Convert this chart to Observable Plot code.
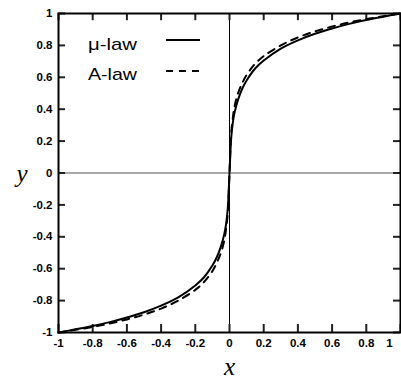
<!DOCTYPE html>
<html>
<head>
<meta charset="utf-8">
<script src="https://cdn.jsdelivr.net/npm/d3@7"></script>
<script src="https://cdn.jsdelivr.net/npm/@observablehq/plot@0.6"></script>
<style>
  body { margin: 0; background: white; }
  #chart { width: 401px; height: 381px; }
</style>
</head>
<body>
<div id="chart"></div>
<script>
// Values
const xs      = [-1, -0.9, -0.8, -0.7, -0.6, -0.5, -0.4, -0.3, -0.2, -0.15, -0.1, -0.075, -0.05, -0.03, -0.02, -0.01, 0,
                  0.01, 0.02, 0.03, 0.05, 0.075, 0.1, 0.15, 0.2, 0.3, 0.4, 0.5, 0.6, 0.7, 0.8, 0.9, 1];
const muLaw   = [-1, -0.98, -0.959, -0.935, -0.906, -0.873, -0.832, -0.78, -0.705, -0.655, -0.58, -0.53, -0.46, -0.38, -0.32, -0.22, 0,
                  0.22, 0.32, 0.38, 0.46, 0.53, 0.58, 0.655, 0.705, 0.78, 0.832, 0.873, 0.906, 0.935, 0.959, 0.98, 1];
const aLaw    = [-1, -0.983, -0.965, -0.944, -0.918, -0.888, -0.85, -0.8, -0.733, -0.685, -0.615, -0.565, -0.5, -0.42, -0.35, -0.25, 0,
                  0.25, 0.35, 0.42, 0.5, 0.565, 0.615, 0.685, 0.733, 0.8, 0.85, 0.888, 0.918, 0.944, 0.965, 0.983, 1];
const xTicks  = [-1, -0.8, -0.6, -0.4, -0.2, 0, 0.2, 0.4, 0.6, 0.8, 1];
const yTicks  = [-1, -0.8, -0.6, -0.4, -0.2, 0, 0.2, 0.4, 0.6, 0.8, 1];
const seriesNames = ["\u03bc-law", "A-law"];

const muData = xs.map((x, i) => ({x, y: muLaw[i]}));
const aData = xs.map((x, i) => ({x, y: aLaw[i]}));
const fmt = d => String(d);

const W = 401, H = 381, ML = 58, MR = 1, MT = 13, MB = 49;
const innerW = W - ML - MR, innerH = H - MT - MB;
// inward tick lengths, converted from pixels to data units (domain span is 2)
const tx = 8 * 2 / innerH, ty = 7 * 2 / innerW;

const chart = Plot.plot({
  width: W,
  height: H,
  marginLeft: ML,
  marginRight: MR,
  marginTop: MT,
  marginBottom: MB,
  x: {domain: [-1, 1]},
  y: {domain: [-1, 1]},
  style: {fontFamily: "'Liberation Sans', Arial, sans-serif", fontSize: "11.5px", fontWeight: "bold", color: "black", background: "white"},
  marks: [
    Plot.ruleX([0], {stroke: "black", strokeWidth: 1}),
    Plot.ruleY([0], {stroke: "#555", strokeWidth: 1}),
    Plot.ruleX(xTicks, {x: d => d, y1: -1, y2: -1 + tx, stroke: "#222", strokeWidth: 2}),
    Plot.ruleX(xTicks, {x: d => d, y1: 1, y2: 1 - tx * 0.9, stroke: "#222", strokeWidth: 2}),
    Plot.ruleY(yTicks, {y: d => d, x1: -1, x2: -1 + ty, stroke: "#222", strokeWidth: 2}),
    Plot.ruleY(yTicks, {y: d => d, x1: 1, x2: 1 - ty, stroke: "#222", strokeWidth: 2}),
    Plot.line(muData, {x: "x", y: "y", stroke: "black", strokeWidth: 2, curve: "catmull-rom"}),
    Plot.line(aData, {x: "x", y: "y", stroke: "black", strokeWidth: 2, strokeDasharray: "7,6", curve: "catmull-rom"}),
    Plot.axisX(xTicks.slice(0, -1), {anchor: "bottom", tickSize: 0, tickPadding: 6, tickFormat: fmt, label: null, fontWeight: "bold", fill: "black"}),
    Plot.axisX(xTicks.slice(-1), {anchor: "bottom", tickSize: 0, tickPadding: 6, dx: -11, tickFormat: fmt, label: null, fontWeight: "bold", fill: "black"}),
    Plot.axisY(yTicks, {anchor: "left", tickSize: 0, tickPadding: 6, tickFormat: fmt, label: null, fontWeight: "bold", fill: "black"}),
    Plot.frame({stroke: "black", strokeWidth: 2}),
    Plot.text(["x"], {frameAnchor: "bottom", dy: 34, lineAnchor: "middle", fontFamily: "'Liberation Serif', 'Times New Roman', serif", fontStyle: "italic", fontWeight: "normal", fontSize: 25}),
    Plot.text(["y"], {frameAnchor: "left", dx: -42, dy: 1, lineAnchor: "middle", fontFamily: "'Liberation Serif', 'Times New Roman', serif", fontStyle: "italic", fontWeight: "normal", fontSize: 25})
  ]
});

document.getElementById("chart").appendChild(chart);

// Legend
const svg = d3.select(chart);
const lg = svg.append("g").attr("font-family", "'Liberation Sans', Arial, sans-serif").attr("font-weight", "normal").attr("font-size", 17).attr("text-anchor", "start");
const legendRows = [
  {name: seriesNames[0], ty: 50, ly: 40, dash: null},
  {name: seriesNames[1], ty: 80, ly: 71, dash: "7,6"}
];
legendRows.forEach(r => {
  lg.append("text").attr("x", 88).attr("y", r.ty).attr("fill", "black")
    .attr("textLength", 49).attr("lengthAdjust", "spacingAndGlyphs").text(r.name);
  const l = lg.append("line").attr("x1", 166).attr("x2", 200).attr("y1", r.ly).attr("y2", r.ly)
    .attr("stroke", "black").attr("stroke-width", 2);
  if (r.dash) l.attr("stroke-dasharray", r.dash);
});
</script>
</body>
</html>
